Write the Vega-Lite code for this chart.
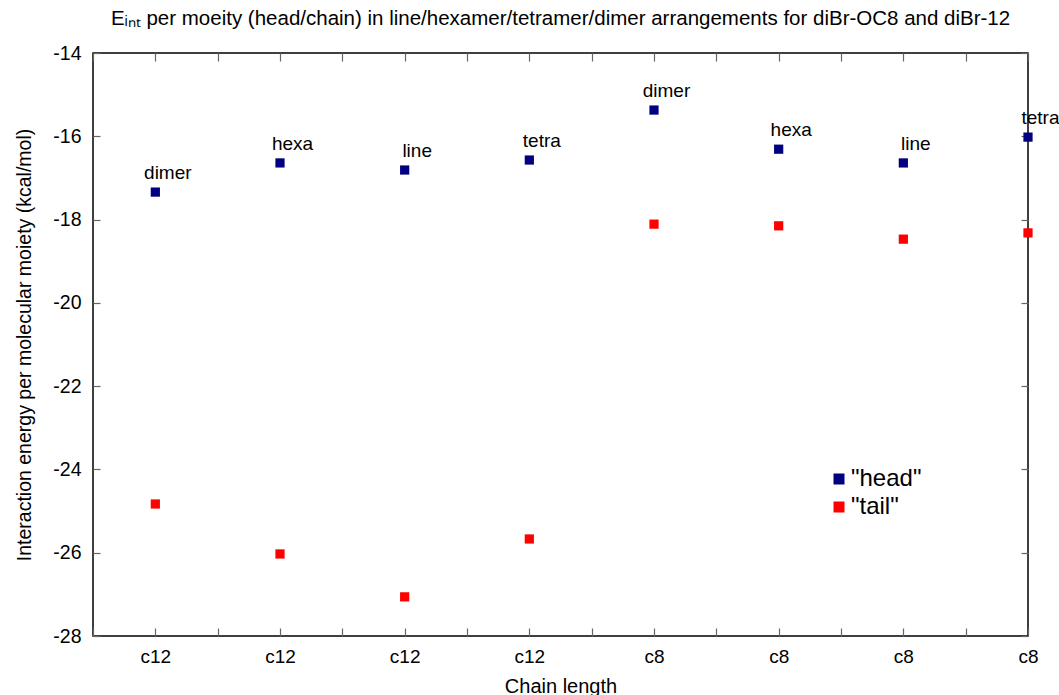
{
  "$schema": "https://vega.github.io/schema/vega-lite/v6.json",
  "width": 935,
  "height": 583,
  "autosize": "none",
  "padding": {"left": 93, "top": 53, "right": 31, "bottom": 59},
  "background": "white",
  "config": {
    "font": "Liberation Sans",
    "view": {"stroke": "black", "strokeWidth": 1.5},
    "axis": {"grid": false, "domain": false, "labelFont": "Liberation Sans", "titleFont": "Liberation Sans", "labelColor": "black", "titleColor": "black", "titleFontWeight": "normal", "tickColor": "#666666", "tickWidth": 1.2}
  },
  "title": {"text": "Eᵢₙₜ per moeity (head/chain) in line/hexamer/tetramer/dimer arrangements for diBr-OC8 and diBr-12", "fontSize": 20.5, "fontWeight": "normal", "font": "Liberation Sans", "color": "black", "offset": 14},
  "datasets": {
    "pts": [
      {"i": 0, "chain": "c12", "arrangement": "dimer", "series": "head", "e": -17.34},
      {"i": 1, "chain": "c12", "arrangement": "hexa", "series": "head", "e": -16.64},
      {"i": 2, "chain": "c12", "arrangement": "line", "series": "head", "e": -16.81},
      {"i": 3, "chain": "c12", "arrangement": "tetra", "series": "head", "e": -16.57},
      {"i": 4, "chain": "c8", "arrangement": "dimer", "series": "head", "e": -15.37},
      {"i": 5, "chain": "c8", "arrangement": "hexa", "series": "head", "e": -16.31},
      {"i": 6, "chain": "c8", "arrangement": "line", "series": "head", "e": -16.64},
      {"i": 7, "chain": "c8", "arrangement": "tetra", "series": "head", "e": -16.02},
      {"i": 0, "chain": "c12", "arrangement": "dimer", "series": "tail", "e": -24.83},
      {"i": 1, "chain": "c12", "arrangement": "hexa", "series": "tail", "e": -26.03},
      {"i": 2, "chain": "c12", "arrangement": "line", "series": "tail", "e": -27.06},
      {"i": 3, "chain": "c12", "arrangement": "tetra", "series": "tail", "e": -25.67},
      {"i": 4, "chain": "c8", "arrangement": "dimer", "series": "tail", "e": -18.11},
      {"i": 5, "chain": "c8", "arrangement": "hexa", "series": "tail", "e": -18.15},
      {"i": 6, "chain": "c8", "arrangement": "line", "series": "tail", "e": -18.47},
      {"i": 7, "chain": "c8", "arrangement": "tetra", "series": "tail", "e": -18.32}
    ]
  },
  "data": {"name": "pts"},
  "resolve": {"axis": {"x": "independent", "y": "independent"}},
  "layer": [
    {
      "mark": {"type": "point", "shape": "square", "filled": true, "opacity": 1, "size": 85},
      "encoding": {
        "x": {"field": "i", "type": "quantitative", "scale": {"domain": [-0.5, 7], "nice": false, "zero": false},
          "axis": {"orient": "bottom", "values": [-0.5, 0, 0.5, 1, 1.5, 2, 2.5, 3, 3.5, 4, 4.5, 5, 5.5, 6, 6.5, 7],
            "labelExpr": "datum.value == floor(datum.value) && datum.value >= 0 ? (datum.value < 4 ? 'c12' : 'c8') : ''",
            "tickSize": -8, "labelPadding": 19, "labelFontSize": 19, "labelFlush": false, "labelOverlap": false, "title": "Chain length", "titleFontSize": 20, "titlePadding": 10}},
        "y": {"field": "e", "type": "quantitative", "scale": {"domain": [-28, -14], "nice": false, "zero": false},
          "axis": {"orient": "left", "values": [-28, -26, -24, -22, -20, -18, -16, -14], "labelExpr": "'' + datum.value", "tickSize": -7, "labelPadding": 19, "labelFontSize": 19.5, "labelFlush": false, "labelOverlap": false, "title": "Interaction energy per molecular moiety (kcal/mol)", "titleFontSize": 19.5, "titlePadding": 18}},
        "color": {"field": "series", "type": "nominal", "scale": {"domain": ["head", "tail"], "range": ["#000080", "#ff0000"]},
          "legend": {"title": null, "orient": "none", "legendX": 734, "legendY": 414, "symbolType": "square", "symbolSize": 121, "symbolStrokeWidth": 0, "labelFontSize": 24, "labelFont": "Liberation Sans", "labelColor": "black", "rowPadding": 4, "padding": 0, "labelOffset": 0,
            "labelExpr": "'\"' + datum.label + '\"'"}}
      }
    },
    {
      "transform": [{"filter": "datum.series == 'head'"}],
      "mark": {"type": "text", "dx": 12.5, "dy": -19, "fontSize": 19, "font": "Liberation Sans", "color": "black"},
      "encoding": {
        "x": {"field": "i", "type": "quantitative",
          "axis": {"orient": "top", "values": [-0.5, 0, 0.5, 1, 1.5, 2, 2.5, 3, 3.5, 4, 4.5, 5, 5.5, 6, 6.5, 7], "labels": false, "tickSize": -8, "title": null}},
        "y": {"field": "e", "type": "quantitative",
          "axis": {"orient": "right", "values": [-28, -26, -24, -22, -20, -18, -16, -14], "labels": false, "tickSize": -7, "title": null}},
        "text": {"field": "arrangement"}
      }
    }
  ]
}
